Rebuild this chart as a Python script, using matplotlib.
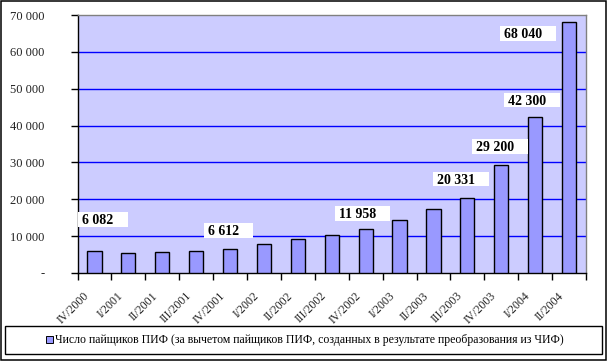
import matplotlib
matplotlib.use("Agg")
import matplotlib.pyplot as plt
from matplotlib.patches import Rectangle, Patch
import numpy as np

categories = ['IV/2000', 'I/2001', 'II/2001', 'III/2001', 'IV/2001', 'I/2002',
              'II/2002', 'III/2002', 'IV/2002', 'I/2003', 'II/2003', 'III/2003',
              'IV/2003', 'I/2004', 'II/2004']
values = [6082, 5450, 5720, 5950, 6612, 7970, 9320, 10400, 11958, 14400,
          17350, 20331, 29200, 42300, 68040]
labeled_idx = [0, 4, 8, 11, 12, 13, 14]
y_ticks = [0, 10000, 20000, 30000, 40000, 50000, 60000, 70000]
y_tick_labels = ['-', '10 000', '20 000', '30 000', '40 000', '50 000', '60 000', '70 000']
legend_label = 'Число пайщиков ПИФ (за вычетом пайщиков ПИФ, созданных в результате преобразования из ЧИФ)'

# label offsets in pixels (layout)
label_offsets = {0: (-12, 30), 4: (-22, 17), 8: (-27, 14), 11: (-30, 18),
                 12: (-25, 17.5), 13: (-27, 16), 14: (-65, -12.5)}

plt.rcParams['font.family'] = ['Liberation Serif', 'DejaVu Serif']

W, H = 607, 361
fig = plt.figure(figsize=(W / 100, H / 100), dpi=100)
fig.patch.set_facecolor('white')

left, right, top, bottom = 77.5, 586, 15, 273
ax = fig.add_axes([left / W, (H - bottom) / H, (right - left) / W, (bottom - top) / H])
ax.set_facecolor('#CCCCFF')

x = np.arange(len(categories))
ax.bar(x, values, width=0.42, color='#9999FF', edgecolor='black', linewidth=1.0, zorder=3)

ax.set_xlim(-0.5, len(categories) - 0.5)
ax.set_ylim(0, 70000)
ax.set_yticks(y_ticks)
ax.set_yticklabels(y_tick_labels, fontsize=9, color='#222222')
for yv in y_ticks[1:-1]:
    ax.axhline(yv, color='#0000FF', linewidth=1.0, zorder=1)

ax.tick_params(axis='y', direction='out', length=5, width=1, pad=19, colors='black', labelcolor='#222222')
ax.set_xticks(np.arange(len(categories) + 1) - 0.5)
ax.set_xticklabels([])
ax.tick_params(axis='x', which='major', direction='out', length=5, width=1)

# category labels, rotated, under each bar
xtrans = ax.get_xaxis_transform()
for i, c in enumerate(categories):
    ax.annotate(c, xy=(x[i], 0), xycoords=xtrans, xytext=(-11, -17), textcoords='offset pixels',
                rotation=45, ha='right', va='top', rotation_mode='anchor',
                fontsize=8.5, color='#222222', annotation_clip=False)

ax.spines['left'].set_color('black')
ax.spines['bottom'].set_color('black')
ax.spines['top'].set_color('#808080')
ax.spines['right'].set_color('#808080')
for s in ax.spines.values():
    s.set_linewidth(1.0)

value_texts = []
for i in labeled_idx:
    dx, dy = label_offsets[i]
    v = values[i]
    txt = f'{v:,}'.replace(',', ' ')
    t = ax.annotate(txt, xy=(x[i], v), xytext=(dx, dy), textcoords='offset pixels',
                    ha='left', va='center', fontsize=10, fontweight='bold', color='black',
                    zorder=6)
    value_texts.append(t)

fig.canvas.draw()
renderer = fig.canvas.get_renderer()
# white label boxes, wider on the right like the reference
for t in value_texts:
    bb = t.get_window_extent(renderer)
    r = Rectangle((bb.x0 - 4, bb.y0 + 0.5), bb.width + 18, bb.height + 1.5, transform=None,
                  facecolor='white', edgecolor='none', zorder=5, clip_on=False)
    ax.add_patch(r)

# legend box
fig.patches.append(Rectangle((4.7 / W, (H - 354) / H), (602 - 4.7) / W, (354 - 326) / H,
                             transform=fig.transFigure, facecolor='white',
                             edgecolor='black', linewidth=1.0))
handle = Patch(facecolor='#9999FF', edgecolor='black', linewidth=0.7)
fig.legend([handle], [legend_label], loc='center', bbox_to_anchor=(305 / W, (H - 340.5) / H),
           frameon=False, fontsize=8.5, handlelength=0.55, handleheight=0.55,
           handletextpad=0.2, borderpad=0)

# outer border
fig.patches.append(Rectangle((0.75 / W, (H - 359.5) / H), (605.5 - 0.75) / W, (359.5 - 0.75) / H,
                             transform=fig.transFigure, facecolor='none',
                             edgecolor='black', linewidth=1.1))

fig.savefig('out.png', dpi=100)
